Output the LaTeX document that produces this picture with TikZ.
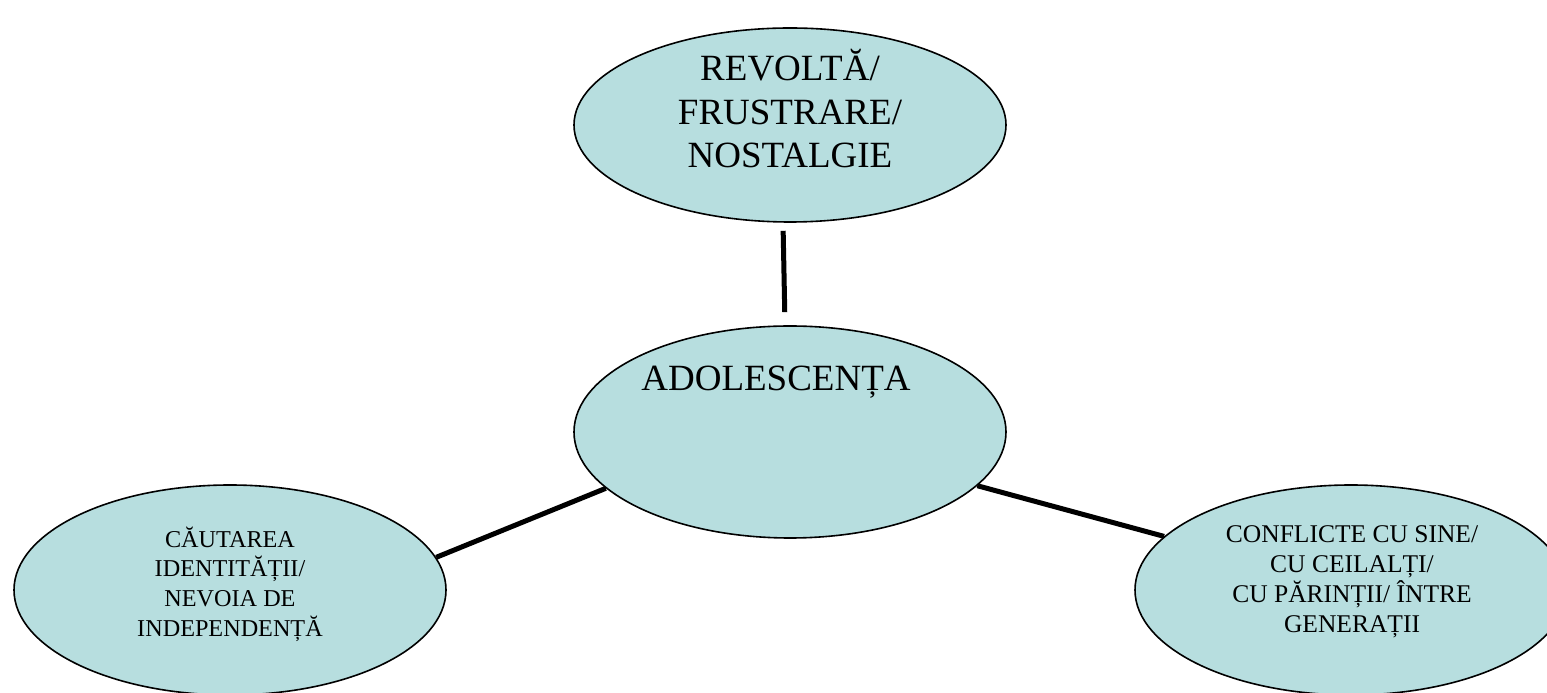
\documentclass[tikz,border=0pt]{standalone}
\usepackage{fontspec}
\setmainfont{Liberation Serif}
\usetikzlibrary{shapes.geometric}
\definecolor{blasstuerkis}{RGB}{183,222,223}

\begin{document}
\begin{tikzpicture}[x=1pt,y=1pt,
    blase/.style={ellipse, draw=black, line width=1.6pt, fill=blasstuerkis, minimum width=432pt, inner sep=0pt},
    gross/.style={font=\fontsize{37}{43.5}\selectfont, align=center},
    klein/.style={font=\fontsize{25.5}{30}\selectfont, align=center},
    verbinder/.style={line width=5pt}]

    % Rahmen
    \useasboundingbox (0,0) rectangle (1547,693);

    % Ellipsen
    \node[blase, minimum height=194pt] (revolta) at (790,568) {};
    \node[blase, minimum height=212pt] (adol) at (790,261) {};
    \node[blase, minimum height=210pt] (cautare) at (230,103) {};
    \node[blase, minimum height=210pt] (conflict) at (1351,103) {};

    % Verbindungslinien
    \draw[verbinder, shorten <=8pt, shorten >=13pt] ([xshift=-7pt]revolta.south) -- ([xshift=-5pt]adol.north);
    \draw[verbinder] (adol.197) -- (cautare.9);
    \draw[verbinder] (adol.344) -- (conflict.164);

    % Beschriftungen
    \node[gross] (revoltatext) at ([yshift=16pt]revolta.center) {REVOLTĂ/\\FRUSTRARE/\\NOSTALGIE};
    \node[gross] (adoltext) at ([xshift=-14pt, yshift=50pt]adol.center) {ADOLESCENȚA};
    \node[klein, font=\fontsize{24.2}{29.7}\selectfont] (cautaretext) at ([yshift=6pt]cautare.center) {CĂUTAREA\\IDENTITĂȚII/\\NEVOIA DE\\INDEPENDENȚĂ};
    \node[klein] (conflicttext) at ([xshift=1pt, yshift=8pt]conflict.center) {CONFLICTE CU SINE/\\CU CEILALȚI/\\CU PĂRINȚII/ ÎNTRE\\GENERAȚII};
\end{tikzpicture}
\end{document}
